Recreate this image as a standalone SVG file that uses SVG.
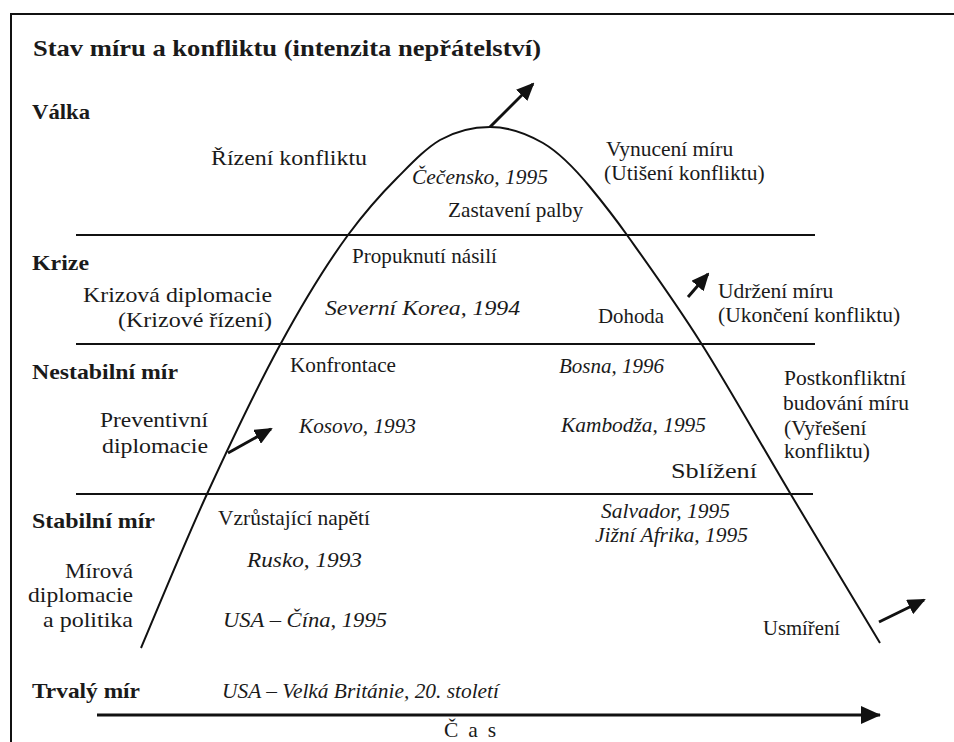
<svg xmlns="http://www.w3.org/2000/svg" width="954" height="742" viewBox="0 0 954 742" font-family="Liberation Serif, serif">
<style>
text{fill:#1a1a1a;font-size:21.5px}
.b{font-weight:bold;font-size:22px}
.t{font-weight:bold;font-size:24px}
.i{font-style:italic}
.e{text-anchor:end}
.ln{stroke:#111;stroke-width:2;fill:none}
.ar{stroke:#111;stroke-width:3;fill:none}
</style>
<defs>
<marker id="ah" viewBox="0 0 18 16" refX="16" refY="8" markerWidth="18" markerHeight="16" markerUnits="userSpaceOnUse" orient="auto">
<path d="M0,0 L18,8 L0,16 z" fill="#111"/>
</marker>
<marker id="axh" viewBox="0 0 20 18" refX="19" refY="9" markerWidth="20" markerHeight="18" markerUnits="userSpaceOnUse" orient="auto">
<path d="M0,0 L20,9 L0,18 z" fill="#111"/>
</marker>
</defs>
<rect width="954" height="742" fill="#fff"/>
<g id="frame">
<path class="ln" d="M11,742 L11,14 L954,14"/>
</g>
<g id="bands">
<line class="ln" x1="76" y1="235" x2="815" y2="235"/>
<line class="ln" x1="76" y1="344" x2="815" y2="344"/>
<line class="ln" x1="76" y1="494" x2="813" y2="494"/>
</g>
<g id="connectors">
<path id="curve" class="ln" d="M141,648 C152,622.3 183.8,544.5 207,494 C230.2,443.5 256.5,388.2 280,345 C303.5,301.8 326,265 348,235 C368,208 382,193 397,178 C412,163 425,149 440,140 C456,131 472,127 490,127 C507,127 526,133 543,143 C560,153 576,170 590,187 C604,204 612,214 627,235 C645.5,261 673.8,300 701,343 C728.2,386 760.2,443 790,493 C819.8,543 865,618 880,643"/>
<line class="ar" x1="490" y1="127" x2="533" y2="84" marker-end="url(#ah)"/>
<line class="ar" x1="688" y1="297" x2="708" y2="274" marker-end="url(#ah)"/>
<line class="ar" x1="228" y1="453" x2="271" y2="429" marker-end="url(#ah)"/>
<line class="ar" x1="879" y1="622" x2="924" y2="600" marker-end="url(#ah)"/>
<line class="ar" x1="97" y1="715" x2="880" y2="715" marker-end="url(#axh)"/>
</g>
<g id="title"><text class="t" x="33" y="56" textLength="508" lengthAdjust="spacingAndGlyphs">Stav míru a konfliktu (intenzita nepřátelství)</text></g>
<g id="levels">
<text class="b" x="32" y="119" textLength="58" lengthAdjust="spacingAndGlyphs">Válka</text>
<text class="b" x="32" y="270" textLength="57" lengthAdjust="spacingAndGlyphs">Krize</text>
<text class="b" x="32" y="379" textLength="146" lengthAdjust="spacingAndGlyphs">Nestabilní mír</text>
<text class="b" x="32" y="528" textLength="123" lengthAdjust="spacingAndGlyphs">Stabilní mír</text>
<text class="b" x="32" y="698" textLength="108" lengthAdjust="spacingAndGlyphs">Trvalý mír</text>
</g>
<g id="n-rizeni"><text x="211" y="165" textLength="156" lengthAdjust="spacingAndGlyphs">Řízení konfliktu</text></g>
<g id="n-cecensko"><text class="i" x="412" y="184" textLength="136" lengthAdjust="spacingAndGlyphs">Čečensko, 1995</text></g>
<g id="n-vynuceni"><text x="606" y="156">Vynucení míru</text><text x="604" y="180">(Utišení konfliktu)</text></g>
<g id="n-zastaveni"><text x="448" y="217" textLength="135" lengthAdjust="spacingAndGlyphs">Zastavení palby</text></g>
<g id="n-propuknuti"><text x="352" y="263" textLength="145" lengthAdjust="spacingAndGlyphs">Propuknutí násilí</text></g>
<g id="n-krizova"><text x="83" y="302" textLength="189" lengthAdjust="spacingAndGlyphs">Krizová diplomacie</text><text x="118" y="327" textLength="154" lengthAdjust="spacingAndGlyphs">(Krizové řízení)</text></g>
<g id="n-korea"><text class="i" x="325" y="315" textLength="195" lengthAdjust="spacingAndGlyphs">Severní Korea, 1994</text></g>
<g id="n-dohoda"><text x="598" y="323" textLength="66" lengthAdjust="spacingAndGlyphs">Dohoda</text></g>
<g id="n-udrzeni"><text x="718" y="298">Udržení míru</text><text x="718" y="322">(Ukončení konfliktu)</text></g>
<g id="n-konfrontace"><text x="290" y="372" textLength="106" lengthAdjust="spacingAndGlyphs">Konfrontace</text></g>
<g id="n-bosna"><text class="i" x="559" y="373" textLength="105" lengthAdjust="spacingAndGlyphs">Bosna, 1996</text></g>
<g id="n-postkonfliktni"><text x="784" y="385">Postkonfliktní</text><text x="783" y="410">budování míru</text><text x="784" y="435">(Vyřešení</text><text x="784" y="458">konfliktu)</text></g>
<g id="n-preventivni"><text x="100" y="427" textLength="108" lengthAdjust="spacingAndGlyphs">Preventivní</text><text x="102" y="453" textLength="106" lengthAdjust="spacingAndGlyphs">diplomacie</text></g>
<g id="n-kosovo"><text class="i" x="299" y="433" textLength="117" lengthAdjust="spacingAndGlyphs">Kosovo, 1993</text></g>
<g id="n-kambodza"><text class="i" x="561" y="432" textLength="145" lengthAdjust="spacingAndGlyphs">Kambodža, 1995</text></g>
<g id="n-sblizeni"><text x="671" y="478" textLength="86" lengthAdjust="spacingAndGlyphs">Sblížení</text></g>
<g id="n-vzrustajici"><text x="218" y="525" textLength="152" lengthAdjust="spacingAndGlyphs">Vzrůstající napětí</text></g>
<g id="n-salvador"><text class="i e" x="730" y="518">Salvador, 1995</text><text class="i e" x="748" y="542">Jižní Afrika, 1995</text></g>
<g id="n-mirova"><text x="65" y="578" textLength="68" lengthAdjust="spacingAndGlyphs">Mírová</text><text x="28" y="602" textLength="105" lengthAdjust="spacingAndGlyphs">diplomacie</text><text x="43" y="627" textLength="90" lengthAdjust="spacingAndGlyphs">a politika</text></g>
<g id="n-rusko"><text class="i" x="247" y="567" textLength="115" lengthAdjust="spacingAndGlyphs">Rusko, 1993</text></g>
<g id="n-usacina"><text class="i" x="223" y="627" textLength="164" lengthAdjust="spacingAndGlyphs">USA – Čína, 1995</text></g>
<g id="n-usmireni"><text x="763" y="635" textLength="77" lengthAdjust="spacingAndGlyphs">Usmíření</text></g>
<g id="n-usavb"><text class="i" x="222" y="698" textLength="277" lengthAdjust="spacingAndGlyphs">USA – Velká Británie, 20. století</text></g>
<g id="axis-label"><text x="444" y="737" textLength="52" lengthAdjust="spacing">Č a s</text></g>
</svg>
